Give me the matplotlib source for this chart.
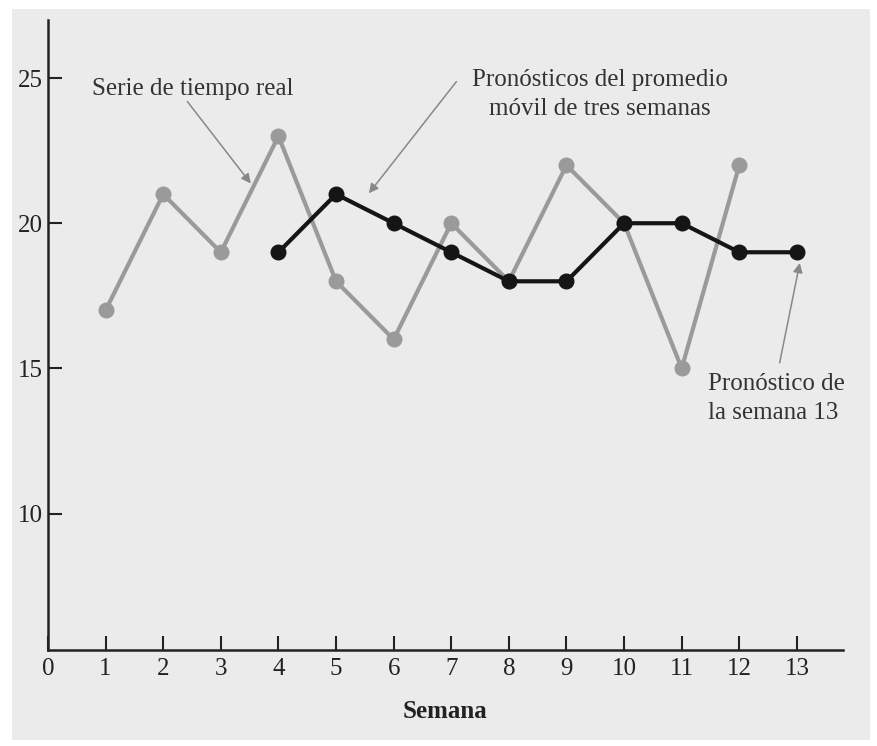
import matplotlib
matplotlib.use("Agg")
import matplotlib.pyplot as plt
from matplotlib.patches import Rectangle

# datos: ventas semanales y pronostico promedio movil de 3 semanas
semanas_real = [1, 2, 3, 4, 5, 6, 7, 8, 9, 10, 11, 12]
serie_real = [17, 21, 19, 23, 18, 16, 20, 18, 22, 20, 15, 22]
semanas_pron = [4, 5, 6, 7, 8, 9, 10, 11, 12, 13]
pronosticos = [19, 21, 20, 19, 18, 18, 20, 20, 19, 19]
xticks = list(range(0, 14))
yticks = [10, 15, 20, 25]

plt.rcParams['font.family'] = ['Liberation Serif', 'DejaVu Serif']

bg = '#ebebeb'
gris = '#9a9a9a'
negro = '#151515'
fs = 18

fig = plt.figure(figsize=(8.78, 7.46), dpi=100, facecolor='white')
fondo = Rectangle((12/878, 1-740/746), (870-12)/878, (740-9)/746,
                  transform=fig.transFigure, facecolor=bg,
                  edgecolor='none', zorder=-10)
fig.patches.append(fondo)

ax = fig.add_axes([48/878, 1-650/746, (843-48)/878, (650-20)/746])
ax.set_zorder(1)
ax.patch.set_alpha(0)

ax.plot(semanas_real, serie_real, color=gris, lw=3, marker='o', ms=10.5,
        mfc=gris, mec=gris, zorder=3)
ax.plot(semanas_pron, pronosticos, color=negro, lw=3, marker='o', ms=10.5,
        mfc=negro, mec=negro, zorder=4)

ax.set_xlim(0, 13.8)
ax.set_ylim(5.3, 27)
ax.set_xticks(xticks)
ax.set_yticks(yticks)
ax.tick_params(direction='in', length=10, width=1.5, labelsize=fs, colors='#222222')
ax.tick_params(axis='x', pad=6)
ax.tick_params(axis='y', pad=4)
for s in ['top', 'right']:
    ax.spines[s].set_visible(False)
for s in ['left', 'bottom']:
    ax.spines[s].set_linewidth(1.8)
    ax.spines[s].set_color('#222222')

ax.set_xlabel('Semana', fontsize=fs, fontweight='bold', labelpad=14, color='#222222')

flecha = dict(arrowstyle='-|>', color='#888888', lw=1.1, mutation_scale=14,
              shrinkA=0, shrinkB=0)
ax.text(2.51, 24.64, 'Serie de tiempo real', ha='center', va='center',
        fontsize=fs, color='#333333', zorder=5)
ax.annotate('', xy=(3.52, 21.37), xytext=(2.42, 24.19), arrowprops=flecha)
ax.text(9.58, 24.43, 'Pronósticos del promedio\nmóvil de tres semanas',
        ha='center', va='center', fontsize=fs, color='#333333', linespacing=1.4)
ax.annotate('', xy=(5.57, 21.03), xytext=(7.09, 24.88), arrowprops=flecha)
ax.text(11.46, 13.95, 'Pronóstico de\nla semana 13', ha='left', va='center',
        fontsize=fs, color='#333333', linespacing=1.4)
ax.annotate('', xy=(13.05, 18.63), xytext=(12.70, 15.19), arrowprops=flecha)

fig.savefig('out.png', dpi=100, facecolor='white')
